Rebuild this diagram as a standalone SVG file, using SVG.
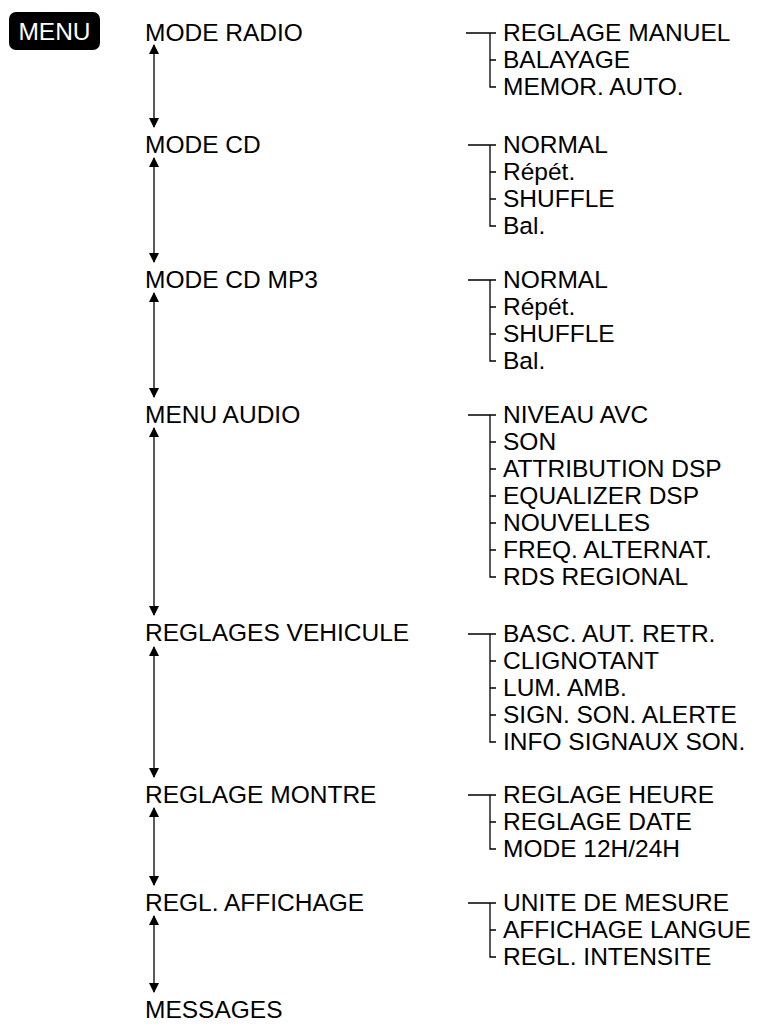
<svg xmlns="http://www.w3.org/2000/svg" width="757" height="1026" viewBox="0 0 757 1026">
<style>
text{font-family:"Liberation Sans",Arial,sans-serif;font-size:24.5px;fill:#000}
.l{stroke:#000;stroke-width:1.3;fill:none}
</style>
<defs>
<marker id="ah" markerWidth="10" markerHeight="10" refX="9" refY="5" orient="auto-start-reverse" markerUnits="userSpaceOnUse"><path d="M0,0 L10,5 L0,10 Z" fill="#000"/></marker>
</defs>
<rect width="757" height="1026" fill="#fff"/>
<g id="menu"><rect x="9" y="12" width="91" height="38" rx="7" fill="#000"/><text x="54.5" y="40" text-anchor="middle" style="fill:#fff">MENU</text></g>
<g id="main">
<text x="145" y="41">MODE RADIO</text>
<text x="145" y="153">MODE CD</text>
<text x="145" y="288">MODE CD MP3</text>
<text x="145" y="423">MENU AUDIO</text>
<text x="145" y="641">REGLAGES VEHICULE</text>
<text x="145" y="803">REGLAGE MONTRE</text>
<text x="145" y="911">REGL. AFFICHAGE</text>
<text x="145" y="1018">MESSAGES</text>
</g>
<g id="connectors" class="l">
<line x1="154" y1="45" x2="154" y2="127" marker-start="url(#ah)" marker-end="url(#ah)"/>
<line x1="154" y1="158" x2="154" y2="262" marker-start="url(#ah)" marker-end="url(#ah)"/>
<line x1="154" y1="293" x2="154" y2="397" marker-start="url(#ah)" marker-end="url(#ah)"/>
<line x1="154" y1="428" x2="154" y2="615" marker-start="url(#ah)" marker-end="url(#ah)"/>
<line x1="154" y1="647" x2="154" y2="777" marker-start="url(#ah)" marker-end="url(#ah)"/>
<line x1="154" y1="808" x2="154" y2="885" marker-start="url(#ah)" marker-end="url(#ah)"/>
<line x1="154" y1="916" x2="154" y2="992" marker-start="url(#ah)" marker-end="url(#ah)"/>
<path d="M466 33H496M490 33V87H496M490 60H496"/>
<path d="M468 145H496M490 145V226H496M490 172H496M490 199H496"/>
<path d="M468 280H496M490 280V361H496M490 307H496M490 334H496"/>
<path d="M468 415H496M490 415V577H496M490 442H496M490 469H496M490 496H496M490 523H496M490 550H496"/>
<path d="M468 634H496M490 634V742H496M490 661H496M490 688H496M490 715H496"/>
<path d="M468 795H496M490 795V849H496M490 822H496"/>
<path d="M468 903H496M490 903V957H496M490 930H496"/>
</g>
<g id="radio"><text x="503" y="41">REGLAGE MANUEL</text><text x="503" y="68">BALAYAGE</text><text x="503" y="95">MEMOR. AUTO.</text></g>
<g id="cd"><text x="503" y="153">NORMAL</text><text x="503" y="180">Répét.</text><text x="503" y="207">SHUFFLE</text><text x="503" y="234">Bal.</text></g>
<g id="mp3"><text x="503" y="288">NORMAL</text><text x="503" y="315">Répét.</text><text x="503" y="342">SHUFFLE</text><text x="503" y="369">Bal.</text></g>
<g id="audio"><text x="503" y="423">NIVEAU AVC</text><text x="503" y="450">SON</text><text x="503" y="477">ATTRIBUTION DSP</text><text x="503" y="504">EQUALIZER DSP</text><text x="503" y="531">NOUVELLES</text><text x="503" y="558">FREQ. ALTERNAT.</text><text x="503" y="585">RDS REGIONAL</text></g>
<g id="vehicule"><text x="503" y="642">BASC. AUT. RETR.</text><text x="503" y="669">CLIGNOTANT</text><text x="503" y="696">LUM. AMB.</text><text x="503" y="723">SIGN. SON. ALERTE</text><text x="503" y="750">INFO SIGNAUX SON.</text></g>
<g id="montre"><text x="503" y="803">REGLAGE HEURE</text><text x="503" y="830">REGLAGE DATE</text><text x="503" y="857">MODE 12H/24H</text></g>
<g id="affichage"><text x="503" y="911">UNITE DE MESURE</text><text x="503" y="938">AFFICHAGE LANGUE</text><text x="503" y="965">REGL. INTENSITE</text></g>
</svg>
